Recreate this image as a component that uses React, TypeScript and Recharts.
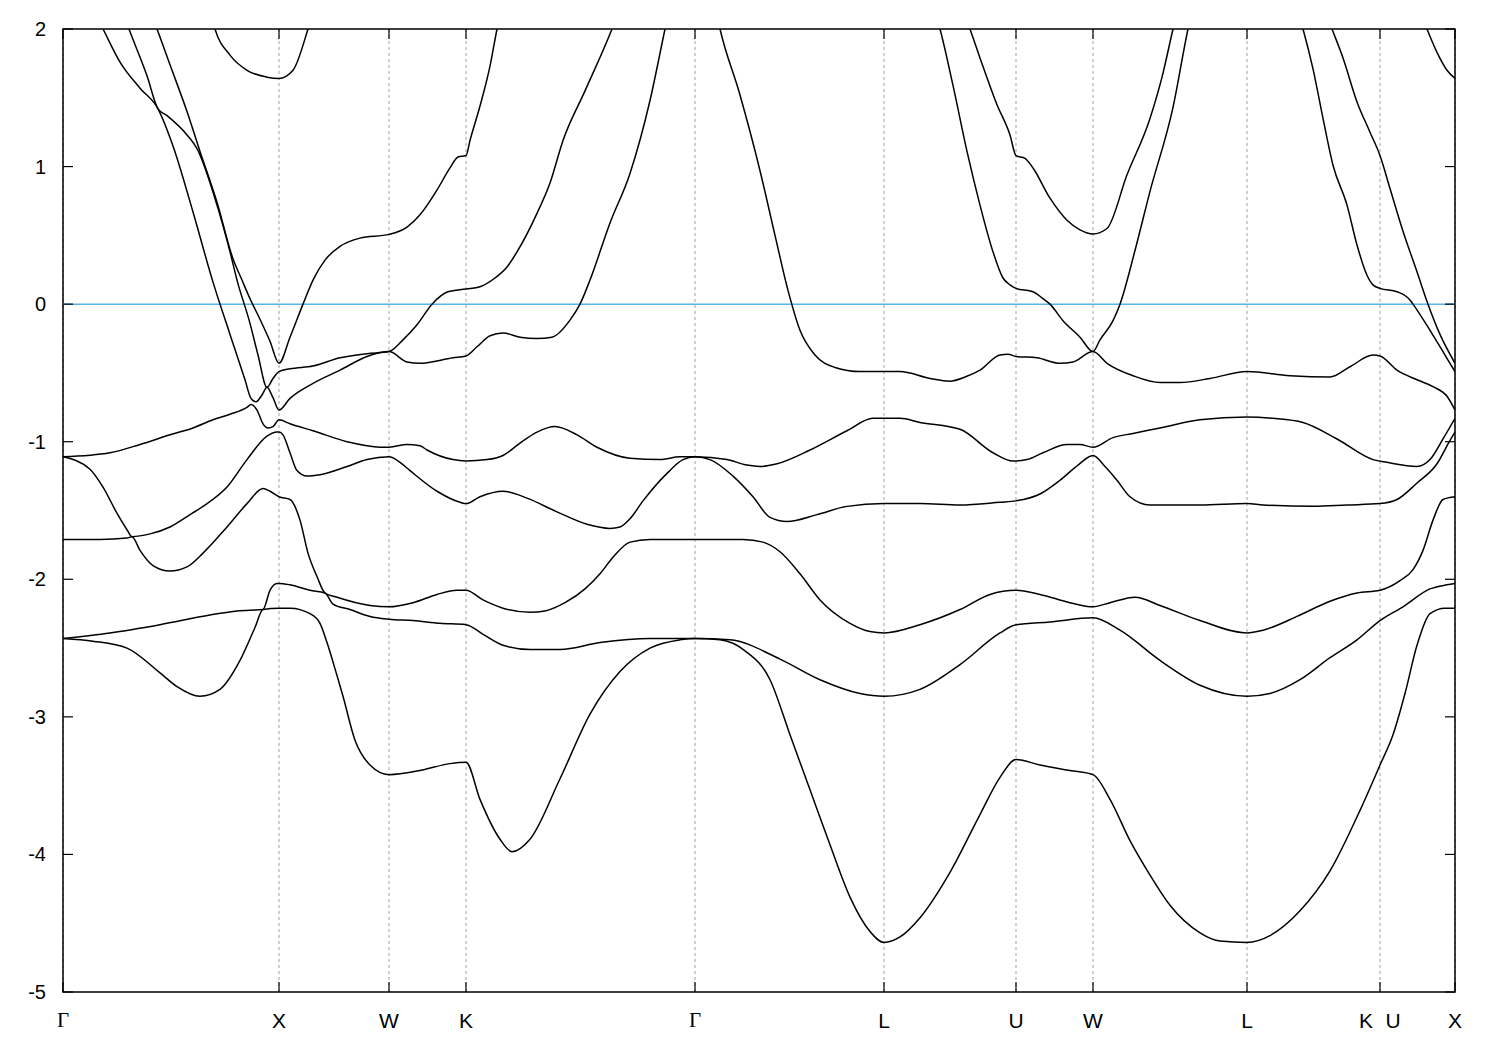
import { LineChart, Line, XAxis, YAxis, CartesianGrid, ReferenceLine, ReferenceArea } from 'recharts';

// plot frame in page pixels (used for inward tick marks only)
const PLOT_LEFT = 63;
const PLOT_RIGHT = 1455;
const PLOT_TOP = 29;
const PLOT_BOTTOM = 992;

// k-path positions of the high symmetry points and their labels
const symK = [0, 216, 326, 403, 632, 821, 953, 1030, 1184, 1317, 1392];
const symLabels = ['Γ', 'X', 'W', 'K', 'Γ', 'L', 'U', 'W', 'L', 'K|U', 'X'];
const energyTicks = [-5, -4, -3, -2, -1, 0, 1, 2];

// bands as [k, E] pairs (values above 2 are clipped)
const band1 = [
  [0, -2.43], [30, -2.45], [64, -2.5], [97, -2.68], [114, -2.78], [137, -2.85], [157, -2.8], [177, -2.59],
  [192, -2.35], [200, -2.22], [216, -2.21], [227, -2.21], [247, -2.25], [257, -2.32], [264, -2.46], [274, -2.7],
  [280, -2.85], [292, -3.17], [307, -3.35], [326, -3.42], [357, -3.39], [387, -3.34], [403, -3.33], [417, -3.6],
  [437, -3.89], [449, -3.98], [467, -3.89], [497, -3.45], [527, -2.98], [557, -2.67], [587, -2.5], [617, -2.44],
  [632, -2.43], [657, -2.44], [682, -2.52], [707, -2.73], [727, -3.13], [747, -3.53], [767, -3.93], [787, -4.31],
  [807, -4.56], [821, -4.64], [837, -4.6], [857, -4.46], [887, -4.13], [917, -3.71], [937, -3.44], [953, -3.31],
  [977, -3.35], [1007, -3.39], [1030, -3.42], [1047, -3.6], [1067, -3.9], [1087, -4.15], [1107, -4.37], [1137, -4.57],
  [1157, -4.63], [1184, -4.64], [1207, -4.59], [1237, -4.41], [1267, -4.12], [1297, -3.68], [1317, -3.35], [1330, -3.13],
  [1342, -2.83], [1354, -2.48], [1367, -2.25], [1382, -2.21], [1392, -2.21],
];
const band2 = [
  [0, -2.43], [47, -2.39], [97, -2.33], [147, -2.26], [174, -2.23], [200, -2.22], [207, -2.08], [214, -2.03],
  [216, -2.03], [227, -2.04], [247, -2.08], [262, -2.1], [270, -2.18], [287, -2.22], [307, -2.27], [326, -2.29],
  [350, -2.3], [377, -2.32], [403, -2.33], [420, -2.4], [440, -2.48], [467, -2.51], [497, -2.51], [537, -2.46],
  [587, -2.43], [632, -2.43], [667, -2.44], [717, -2.58], [757, -2.73], [797, -2.83], [821, -2.85], [857, -2.8],
  [897, -2.62], [937, -2.39], [953, -2.33], [987, -2.31], [1030, -2.28], [1057, -2.37], [1097, -2.59], [1137, -2.77],
  [1184, -2.85], [1207, -2.83], [1237, -2.73], [1267, -2.57], [1294, -2.44], [1317, -2.3], [1340, -2.2], [1367, -2.07],
  [1384, -2.04], [1392, -2.03],
];
const band3 = [
  [0, -1.71], [37, -1.71], [64, -1.7], [69, -1.69], [77, -1.79], [90, -1.9], [107, -1.94], [124, -1.91],
  [140, -1.81], [164, -1.62], [184, -1.45], [200, -1.34], [207, -1.36], [216, -1.4], [227, -1.42], [237, -1.57],
  [245, -1.81], [254, -1.98], [262, -2.1], [274, -2.13], [307, -2.19], [326, -2.2], [350, -2.17], [374, -2.11],
  [394, -2.08], [403, -2.08], [420, -2.15], [440, -2.21], [467, -2.24], [482, -2.23], [502, -2.17], [522, -2.07],
  [537, -1.96], [550, -1.84], [567, -1.73], [587, -1.71], [632, -1.71], [680, -1.71], [700, -1.73], [717, -1.8],
  [737, -1.96], [757, -2.15], [787, -2.32], [807, -2.38], [821, -2.39], [857, -2.33], [897, -2.22], [927, -2.11],
  [953, -2.08], [977, -2.11], [1007, -2.17], [1030, -2.2], [1047, -2.17], [1072, -2.13], [1097, -2.19], [1137, -2.3],
  [1184, -2.39], [1200, -2.37], [1234, -2.27], [1267, -2.16], [1294, -2.1], [1317, -2.08], [1337, -2.01], [1350, -1.93],
  [1360, -1.79], [1370, -1.57], [1380, -1.42], [1392, -1.4],
];
const band4 = [
  [0, -1.11], [27, -1.2], [40, -1.33], [54, -1.52], [64, -1.64], [69, -1.69], [87, -1.67], [107, -1.62],
  [127, -1.53], [140, -1.47], [164, -1.33], [184, -1.13], [204, -0.96], [214, -0.93], [216, -0.93], [220, -0.95],
  [227, -1.08], [234, -1.21], [244, -1.25], [257, -1.24], [284, -1.18], [304, -1.13], [326, -1.11], [337, -1.15],
  [347, -1.21], [374, -1.36], [397, -1.44], [403, -1.45], [417, -1.4], [440, -1.36], [464, -1.41], [494, -1.51],
  [524, -1.6], [547, -1.63], [557, -1.62], [567, -1.56], [580, -1.43], [604, -1.23], [620, -1.13], [632, -1.11],
  [647, -1.13], [670, -1.25], [690, -1.4], [707, -1.55], [724, -1.58], [754, -1.53], [784, -1.47], [821, -1.45],
  [857, -1.45], [897, -1.46], [937, -1.44], [953, -1.43], [977, -1.38], [997, -1.28], [1015, -1.17], [1030, -1.1],
  [1042, -1.18], [1054, -1.28], [1067, -1.4], [1087, -1.46], [1137, -1.46], [1184, -1.45], [1200, -1.46], [1250, -1.47],
  [1284, -1.46], [1317, -1.45], [1334, -1.42], [1354, -1.3], [1374, -1.16], [1387, -0.99], [1392, -0.93],
];
const band5 = [
  [0, -1.11], [47, -1.08], [77, -1.02], [107, -0.95], [130, -0.9], [150, -0.84], [167, -0.8], [184, -0.75],
  [188, -0.73], [194, -0.77], [200, -0.87], [205, -0.9], [210, -0.89], [216, -0.84], [227, -0.87], [250, -0.92],
  [284, -1.0], [317, -1.04], [326, -1.04], [344, -1.02], [357, -1.03], [364, -1.06], [390, -1.13], [403, -1.14],
  [424, -1.13], [440, -1.1], [457, -1.01], [474, -0.93], [492, -0.89], [514, -0.95], [534, -1.04], [567, -1.12],
  [597, -1.13], [617, -1.11], [632, -1.11], [664, -1.13], [684, -1.17], [697, -1.18], [714, -1.16], [747, -1.06],
  [784, -0.92], [810, -0.83], [821, -0.83], [837, -0.83], [857, -0.86], [897, -0.91], [930, -1.08], [950, -1.14],
  [953, -1.14], [964, -1.13], [980, -1.08], [1004, -1.02], [1017, -1.02], [1030, -1.04], [1050, -0.97], [1070, -0.94],
  [1097, -0.9], [1137, -0.84], [1184, -0.82], [1210, -0.83], [1240, -0.86], [1274, -0.98], [1310, -1.13], [1324, -1.15],
  [1354, -1.18], [1367, -1.13], [1380, -0.98], [1392, -0.83],
];
const band6 = [
  [0, 2.55], [17, 2.32], [40, 2.0], [57, 1.76], [77, 1.57], [95, 1.42], [110, 1.15], [130, 0.67],
  [150, 0.16], [167, -0.22], [182, -0.55], [188, -0.685], [193, -0.71], [199, -0.66], [204, -0.605], [210, -0.68],
  [216, -0.77], [227, -0.685], [250, -0.576], [277, -0.48], [304, -0.38], [326, -0.345], [344, -0.42], [357, -0.43],
  [390, -0.39], [403, -0.377], [414, -0.31], [427, -0.23], [440, -0.21], [457, -0.24], [474, -0.25], [489, -0.24],
  [507, -0.116], [517, 0.0], [527, 0.175], [547, 0.59], [567, 0.95], [587, 1.48], [602, 2.0], [632, 3.0],
  [657, 2.0], [677, 1.52], [697, 0.97], [712, 0.5], [725, 0.1], [737, -0.19], [752, -0.37], [772, -0.46],
  [797, -0.49], [821, -0.49], [837, -0.49], [867, -0.54], [887, -0.56], [902, -0.53], [917, -0.48], [937, -0.37],
  [945, -0.365], [953, -0.38], [974, -0.39], [997, -0.43], [1010, -0.42], [1030, -0.345], [1044, -0.43], [1070, -0.52],
  [1097, -0.57], [1117, -0.57], [1147, -0.54], [1184, -0.49], [1227, -0.52], [1267, -0.53], [1287, -0.455], [1310, -0.37],
  [1317, -0.377], [1334, -0.48], [1354, -0.55], [1370, -0.6], [1384, -0.67], [1392, -0.77],
];
const band7 = [
  [0, 3.2], [37, 2.6], [66, 2.0], [84, 1.66], [95, 1.42], [104, 1.37], [124, 1.23], [134, 1.13],
  [154, 0.72], [167, 0.38], [174, 0.175], [187, -0.14], [195, -0.37], [204, -0.605], [210, -0.54], [216, -0.49],
  [227, -0.47], [250, -0.45], [277, -0.39], [304, -0.36], [326, -0.345], [340, -0.26], [354, -0.15], [369, 0.0],
  [385, 0.09], [403, 0.11], [417, 0.127], [432, 0.19], [444, 0.27], [454, 0.38], [474, 0.66], [487, 0.88],
  [500, 1.19], [522, 1.55], [549, 2.0], [587, 2.8], [632, 3.2], [737, 3.2], [821, 3.0], [857, 2.4],
  [877, 2.0], [890, 1.59], [904, 1.11], [917, 0.72], [930, 0.38], [940, 0.19], [947, 0.14], [953, 0.115],
  [970, 0.09], [980, 0.04], [987, 0.0], [1000, -0.12], [1017, -0.24], [1030, -0.345], [1037, -0.26], [1050, -0.12],
  [1057, 0.0], [1072, 0.39], [1087, 0.82], [1110, 1.43], [1125, 2.0], [1147, 2.6], [1184, 3.0], [1207, 2.8],
  [1227, 2.3], [1240, 2.0], [1250, 1.71], [1260, 1.35], [1270, 1.01], [1284, 0.72], [1294, 0.43], [1304, 0.21],
  [1310, 0.14], [1317, 0.115], [1334, 0.09], [1347, 0.03], [1350, 0.0], [1367, -0.19], [1382, -0.37], [1392, -0.49],
];
const band8 = [
  [0, 3.9], [47, 2.8], [94, 2.0], [107, 1.74], [124, 1.4], [137, 1.11], [154, 0.74], [170, 0.33],
  [179, 0.175], [187, 0.04], [197, -0.11], [207, -0.27], [216, -0.43], [227, -0.24], [240, 0.0], [250, 0.175],
  [262, 0.32], [277, 0.42], [297, 0.48], [326, 0.507], [344, 0.56], [357, 0.65], [374, 0.83], [387, 0.99],
  [395, 1.07], [403, 1.08], [407, 1.19], [417, 1.44], [427, 1.73], [434, 2.0], [457, 2.6], [497, 3.3],
  [632, 3.8], [700, 3.8], [821, 3.5], [877, 2.6], [907, 2.0], [917, 1.79], [934, 1.45], [947, 1.23],
  [953, 1.08], [962, 1.06], [970, 0.99], [987, 0.77], [1004, 0.61], [1017, 0.54], [1030, 0.51], [1044, 0.55],
  [1064, 0.94], [1087, 1.35], [1099, 1.65], [1110, 2.0], [1137, 2.8], [1184, 3.5], [1237, 2.6], [1269, 2.0],
  [1280, 1.79], [1294, 1.47], [1307, 1.25], [1317, 1.08], [1327, 0.84], [1340, 0.53], [1354, 0.235], [1364, 0.02],
  [1377, -0.22], [1392, -0.43],
];
const band9 = [
  [0, 4.5], [100, 3.2], [140, 2.4], [152, 2.0], [167, 1.81], [184, 1.7], [204, 1.65], [216, 1.64],
  [230, 1.7], [245, 2.0], [267, 2.6], [326, 3.2], [403, 3.8], [632, 4.5], [821, 4.5], [1030, 3.6],
  [1184, 4.5], [1317, 3.2], [1340, 2.5], [1364, 2.0], [1374, 1.83], [1384, 1.7], [1392, 1.64],
];

const bands = [band1, band2, band3, band4, band5, band6, band7, band8, band9];
const bandData = bands.map((b) => b.map(([k, e]) => ({ k, e })));

const labelFont = 'Liberation Sans, Arial, sans-serif';
const gammaFont = 'Liberation Serif, Times New Roman, serif';

function XTick({ x, payload }: any) {
  const idx = symK.indexOf(payload.value);
  const label = symLabels[idx] ?? '';
  const parts = label.split('|');
  const offsets = parts.length > 1 ? [-14, 13] : [0];
  return (
    <g>
      <line x1={x} x2={x} y1={PLOT_BOTTOM} y2={PLOT_BOTTOM - 10} stroke="#000" strokeWidth={1.2} />
      <line x1={x} x2={x} y1={PLOT_TOP} y2={PLOT_TOP + 10} stroke="#000" strokeWidth={1.2} />
      {parts.map((p, i) => (
        <text
          key={i}
          x={x + offsets[i]}
          y={PLOT_BOTTOM + 28}
          textAnchor="middle"
          dominantBaseline="central"
          fontFamily={p === 'Γ' ? gammaFont : labelFont}
          fontSize={21}
          fill="#000"
        >
          {p}
        </text>
      ))}
    </g>
  );
}

function YTick({ y, payload }: any) {
  return (
    <g>
      <line x1={PLOT_LEFT} x2={PLOT_LEFT + 10} y1={y} y2={y} stroke="#000" strokeWidth={1.2} />
      <line x1={PLOT_RIGHT - 10} x2={PLOT_RIGHT} y1={y} y2={y} stroke="#000" strokeWidth={1.2} />
      <text
        x={PLOT_LEFT - 17}
        y={y}
        textAnchor="end"
        dominantBaseline="central"
        fontFamily={labelFont}
        fontSize={20}
        fill="#000"
      >
        {payload.value}
      </text>
    </g>
  );
}

export default function App() {
  return (
    <div style={{ position: 'absolute', left: 0, top: 0, width: 1500, height: 1050, background: '#fff' }}>
      <LineChart width={1500} height={1050} margin={{ top: 29, right: 45, bottom: 18, left: 13 }}>
        <CartesianGrid horizontal={false} stroke="#a0a0a0" strokeDasharray="3 3" />
        <XAxis
          type="number"
          dataKey="k"
          domain={[0, 1392]}
          ticks={symK}
          interval={0}
          height={40}
          axisLine={false}
          tickLine={false}
          tick={<XTick />}
          allowDataOverflow
        />
        <YAxis
          type="number"
          domain={[-5, 2]}
          ticks={energyTicks}
          interval={0}
          width={50}
          axisLine={false}
          tickLine={false}
          tick={<YTick />}
          allowDataOverflow
        />
        <ReferenceLine y={0} stroke="#56b4e9" strokeWidth={1.5} />
        {bandData.map((d, i) => (
          <Line
            key={i}
            data={d}
            dataKey="e"
            type="monotone"
            stroke="#000"
            strokeWidth={1.5}
            dot={false}
            activeDot={false}
            isAnimationActive={false}
          />
        ))}
        <ReferenceArea x1={0} x2={1392} y1={-5} y2={2} fill="none" stroke="#000" strokeWidth={1.5} ifOverflow="visible" />
      </LineChart>
    </div>
  );
}
